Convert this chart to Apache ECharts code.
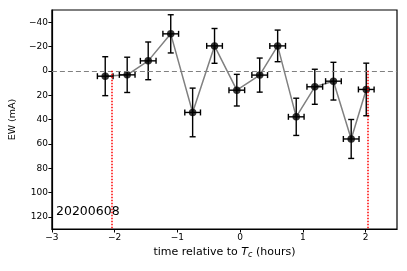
<!DOCTYPE html>
<html><head><meta charset="utf-8">
<script src="https://cdn.jsdelivr.net/npm/echarts@6/dist/echarts.min.js"></script>
<style>html,body{margin:0;padding:0;background:#fff}#c{width:407px;height:271px}</style>
</head><body><div id="c"></div>
<script>
// Data
const times   = [-2.15, -1.80, -1.465, -1.106, -0.757, -0.408, -0.053, 0.312, 0.598, 0.894, 1.19, 1.487, 1.77, 2.01];
const ew      = [4.4, 3.3, -8.2, -30.4, 34.2, -20.5, 15.9, 3.5, -20.5, 37.8, 13.1, 8.5, 56.0, 15.3];
const ewErr   = [16, 14.5, 15.5, 15.7, 20, 14.3, 13, 14, 13, 15.3, 14.4, 15.5, 16, 21.6];
const timeErr = [0.125, 0.125, 0.125, 0.125, 0.125, 0.125, 0.125, 0.125, 0.125, 0.125, 0.125, 0.125, 0.125, 0.125];
const contactTimes = [-2.04, 2.04];
const xTicks = [-3, -2, -1, 0, 1, 2];
const yTicks = [-40, -20, 0, 20, 40, 60, 80, 100, 120];
const dateLabel = '20200608';

const pts = times.map((t, i) => [t, ew[i]]);
const errData = times.map((t, i) => [t, ew[i], timeErr[i], ewErr[i]]);
const F = 'DejaVu Sans';
const minus = v => String(v).replace('-', '\u2212');

const chart = echarts.init(document.getElementById('c'), null, {renderer: 'canvas'});
chart.setOption({
  backgroundColor: '#fff',
  animation: false,
  grid: {left: 49, right: 10, top: 10, bottom: 42, show: true, borderColor: '#000', borderWidth: 1.2, backgroundColor: 'transparent'},
  xAxis: {
    type: 'value', min: -3, max: 2.5,
    splitLine: {show: false},
    axisLine: {show: true, onZero: false, lineStyle: {color: '#000', width: 1.2}},
    axisTick: {show: true, length: 3.5, lineStyle: {color: '#000'}, customValues: xTicks},
    axisLabel: {color: '#000', fontFamily: F, fontSize: 9, margin: 4, customValues: xTicks, formatter: minus},
    name: '{n|time relative to }{i|T}{s|c}{n| (hours)}',
    nameLocation: 'middle', nameGap: 17,
    nameTextStyle: {
      fontFamily: F, fontSize: 11, color: '#000',
      rich: {
        n: {fontFamily: F, fontSize: 11, color: '#000'},
        i: {fontFamily: F, fontSize: 11, color: '#000', fontStyle: 'italic'},
        s: {fontFamily: F, fontSize: 8, color: '#000', fontStyle: 'italic', padding: [5, 0, 0, 0]}
      }
    }
  },
  yAxis: {
    type: 'value', min: -50, max: 130, inverse: true,
    splitLine: {show: false},
    axisLine: {show: true, onZero: false, lineStyle: {color: '#000', width: 1.2}},
    axisTick: {show: true, length: 3.5, lineStyle: {color: '#000'}, customValues: yTicks},
    axisLabel: {color: '#000', fontFamily: F, fontSize: 9, margin: 4, customValues: yTicks, formatter: minus},
    name: 'EW (mA)', nameLocation: 'middle', nameGap: 30,
    nameTextStyle: {fontFamily: F, fontSize: 9.5, color: '#000'}
  },
  graphic: [{
    type: 'text', left: 56, top: 205,
    style: {text: dateLabel, fontFamily: F, fontSize: 12.5, fill: '#000'}
  }],
  series: [
    {
      type: 'line', data: pts, symbol: 'none', z: 2,
      lineStyle: {color: '#808080', width: 1.5},
      markLine: {
        silent: true, symbol: 'none', label: {show: false},
        data: [
          {yAxis: 0, lineStyle: {color: '#808080', type: [5, 3], width: 1.2}},
          [{coord: [contactTimes[0], 0], lineStyle: {color: '#ff0000', type: [1.5, 1.5], width: 1.5}}, {coord: [contactTimes[0], 130]}],
          [{coord: [contactTimes[1], 0], lineStyle: {color: '#ff0000', type: [1.5, 1.5], width: 1.5}}, {coord: [contactTimes[1], 130]}]
        ]
      }
    },
    {
      type: 'custom', z: 3, data: errData,
      renderItem: function (params, api) {
        const x = api.value(0), y = api.value(1), xe = api.value(2), ye = api.value(3);
        const top = api.coord([x, y - ye]), bot = api.coord([x, y + ye]);
        const lft = api.coord([x - xe, y]), rgt = api.coord([x + xe, y]);
        const c = 3;
        const st = {stroke: '#000', lineWidth: 1.4};
        const L = (x1, y1, x2, y2) => ({type: 'line', shape: {x1, y1, x2, y2}, style: st});
        return {type: 'group', children: [
          L(top[0], top[1], bot[0], bot[1]),
          L(top[0] - c, top[1], top[0] + c, top[1]),
          L(bot[0] - c, bot[1], bot[0] + c, bot[1]),
          L(lft[0], lft[1], rgt[0], rgt[1]),
          L(lft[0], lft[1] - c, lft[0], lft[1] + c),
          L(rgt[0], rgt[1] - c, rgt[0], rgt[1] + c)
        ]};
      }
    },
    {
      type: 'scatter', data: pts, z: 4, symbol: 'circle', symbolSize: 7.5,
      itemStyle: {color: '#000'}
    }
  ]
});
</script></body></html>
